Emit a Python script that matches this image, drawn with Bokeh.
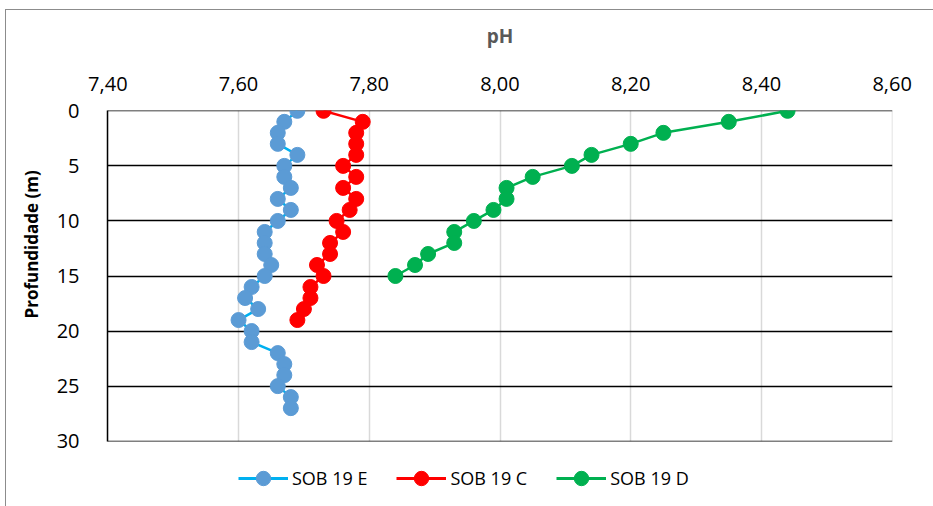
from bokeh.plotting import figure
from bokeh.models import Range1d, FixedTicker, Legend, LegendItem, Title
from bokeh.layouts import column
from bokeh.embed import file_html
from bokeh.resources import INLINE

# ---- data ----
depth_e = list(range(0, 28))
ph_e = [7.69, 7.67, 7.66, 7.66, 7.69, 7.67, 7.67, 7.68, 7.66, 7.68,
        7.66, 7.64, 7.64, 7.64, 7.65, 7.64, 7.62, 7.61, 7.63, 7.60,
        7.62, 7.62, 7.66, 7.67, 7.67, 7.66, 7.68, 7.68]

depth_c = list(range(0, 20))
ph_c = [7.73, 7.79, 7.78, 7.78, 7.78, 7.76, 7.78, 7.76, 7.78, 7.77,
        7.75, 7.76, 7.74, 7.74, 7.72, 7.73, 7.71, 7.71, 7.70, 7.69]

depth_d = list(range(0, 16))
ph_d = [8.44, 8.35, 8.25, 8.20, 8.14, 8.11, 8.05, 8.01, 8.01, 7.99,
        7.96, 7.93, 7.93, 7.89, 7.87, 7.84]

series_names = ["SOB 19 E", "SOB 19 C", "SOB 19 D"]

x_ticks = [7.40, 7.60, 7.80, 8.00, 8.20, 8.40, 8.60]
x_tick_labels = ["7,40", "7,60", "7,80", "8,00", "8,20", "8,40", "8,60"]
y_ticks = [0, 5, 10, 15, 20, 25, 30]

FONT = "Open Sans"
line_colors = ["#00b0f0", "#ff0000", "#00b050"]
marker_colors = ["#5b9bd5", "#ff0000", "#00b050"]

p = figure(width=927, height=445, output_backend="svg", toolbar_location=None,
           x_range=Range1d(7.3995, 8.6005), y_range=Range1d(30.03, -0.03),
           x_axis_location="above",
           min_border_left=101, min_border_right=41,
           min_border_top=100, min_border_bottom=14)
p.outline_line_color = None
p.background_fill_color = "white"
p.border_fill_color = "white"

# axes
xa = p.xaxis[0]
xa.ticker = FixedTicker(ticks=x_ticks)
xa.major_label_overrides = dict(zip(x_ticks, x_tick_labels))
xa.axis_line_color = None
xa.major_tick_line_color = None
xa.minor_tick_line_color = None
xa.major_label_text_font = FONT
xa.major_label_text_font_size = "20px"
xa.major_label_text_color = "black"
xa.major_label_standoff = 14
xa.axis_label = "pH"
xa.axis_label_text_font = FONT
xa.axis_label_text_font_style = "bold"
xa.axis_label_text_font_size = "19px"
xa.axis_label_text_color = "#595959"
xa.axis_label_standoff = 25

ya = p.yaxis[0]
ya.ticker = FixedTicker(ticks=y_ticks)
ya.axis_line_color = "black"
ya.axis_line_width = 1.5
ya.major_tick_line_color = None
ya.minor_tick_line_color = None
ya.major_label_text_font = FONT
ya.major_label_text_font_size = "20px"
ya.major_label_text_color = "black"
ya.major_label_standoff = 22

p.add_layout(Title(text="Profundidade (m)", align="left", offset=123,
                   text_font=FONT, text_font_style="bold",
                   text_font_size="17px", text_color="black", standoff=22),
             "left")

p.xgrid.ticker = FixedTicker(ticks=x_ticks)
p.xgrid.grid_line_color = "#d9d9d9"
p.xgrid.grid_line_width = 1.5
p.ygrid.ticker = FixedTicker(ticks=y_ticks)
p.ygrid.grid_line_color = "black"
p.ygrid.grid_line_width = 1.5

specs = [(ph_e, depth_e), (ph_c, depth_c), (ph_d, depth_d)]
for (xs, ys), lc, mc in zip(specs, line_colors, marker_colors):
    p.line(xs, ys, line_color=lc, line_width=2.5)
    p.scatter(xs, ys, size=15, fill_color=mc, line_color=mc)

# legend strip below the chart (its frame is aligned with the chart frame)
pl = figure(width=927, height=51, output_backend="svg", toolbar_location=None,
            x_range=Range1d(0, 1), y_range=Range1d(0, 1),
            x_axis_location=None, y_axis_location=None, min_border=0)
pl.grid.visible = False
pl.outline_line_color = None
items = []
for name, lc, mc in zip(series_names, line_colors, marker_colors):
    r1 = pl.line([-5, -4], [-5, -4], line_color=lc, line_width=3)
    r2 = pl.scatter([-5], [-5], size=15, fill_color=mc, line_color=mc)
    items.append(LegendItem(label=name, renderers=[r1, r2]))
legend = Legend(items=items, orientation="horizontal", location=(131, 10),
                glyph_width=50, glyph_height=36, label_standoff=4, spacing=29,
                label_text_font=FONT, label_text_font_size="18px",
                label_text_color="black", border_line_color=None,
                background_fill_alpha=0, margin=0, padding=0)
pl.add_layout(legend, "center")

root = column(p, pl, spacing=0, margin=(9, 0, 0, 5),
              styles={"border-left": "1px solid #8c8c8c",
                      "border-top": "1px solid #8c8c8c"})

open("out.html", "w").write(file_html(root, INLINE))
